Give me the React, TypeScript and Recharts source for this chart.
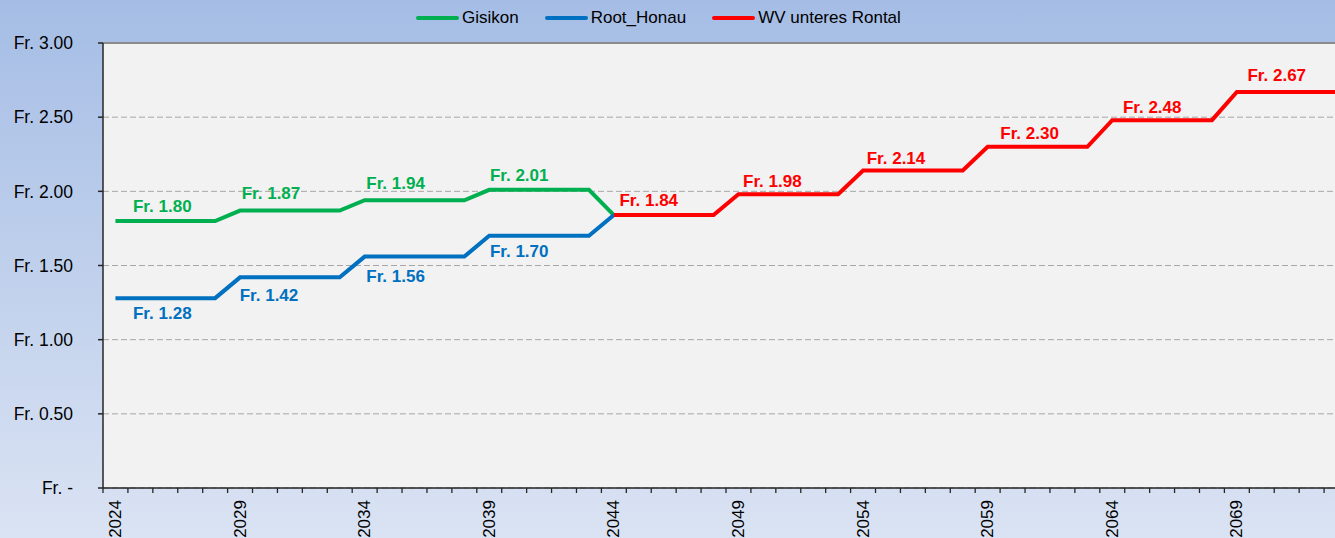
import { CartesianGrid, Legend, LabelList, Line, LineChart, ReferenceLine, XAxis, YAxis } from 'recharts';

// Jahre 2024–2073 (x-Achse), Beschriftung nur alle 5 Jahre
const YEARS = Array.from({ length: 50 }, (_, i) => 2024 + i);
const X_TICKS = [...YEARS.flatMap((y) => [y - 0.5, y]), 2073.5];
const Y_TICKS = [0, 0.5, 1, 1.5, 2, 2.5, 3];

// 2024–2044
const GISIKON = [
  1.8, 1.8, 1.8, 1.8, 1.8,
  1.87, 1.87, 1.87, 1.87, 1.87,
  1.94, 1.94, 1.94, 1.94, 1.94,
  2.01, 2.01, 2.01, 2.01, 2.01,
  1.84,
];
// 2024–2044
const ROOT_HONAU = [
  1.28, 1.28, 1.28, 1.28, 1.28,
  1.42, 1.42, 1.42, 1.42, 1.42,
  1.56, 1.56, 1.56, 1.56, 1.56,
  1.7, 1.7, 1.7, 1.7, 1.7,
  1.84,
];
// 2044–2073
const RONTAL = [
  1.84, 1.84, 1.84, 1.84, 1.84,
  1.98, 1.98, 1.98, 1.98, 1.98,
  2.14, 2.14, 2.14, 2.14, 2.14,
  2.3, 2.3, 2.3, 2.3, 2.3,
  2.48, 2.48, 2.48, 2.48, 2.48,
  2.67, 2.67, 2.67, 2.67, 2.67,
];

const ROWS = YEARS.map((year, i) => ({
  year,
  gisikon: GISIKON[i] ?? null,
  root: ROOT_HONAU[i] ?? null,
  rontal: i >= 20 ? RONTAL[i - 20] ?? null : null,
}));

// which points get a data label, and how far the label sits from the point
const GISIKON_LABELS: Record<number, [number, number]> = {
  2026: [-3, -15], 2030: [6, -17], 2035: [6, -17], 2040: [5, -14],
};
const ROOT_LABELS: Record<number, [number, number]> = {
  2026: [-3, 15], 2030: [4, 18], 2035: [6, 20], 2040: [5, 16],
};
const RONTAL_LABELS: Record<number, [number, number]> = {
  2045: [10, -15], 2050: [9, -13], 2055: [8, -12], 2060: [17, -13], 2065: [15, -13], 2070: [15, -16],
};

const FONT = '"Liberation Sans", Arial, sans-serif';
const AXIS = '#262626';

const fmtFr = (v: number) => (v === 0 ? 'Fr. -' : `Fr. ${v.toFixed(2)}`);

function makeLabel(spots: Record<number, [number, number]>, color: string) {
  return (props: any) => {
    const { x, y, value, index } = props;
    const spot = spots[ROWS[index]?.year];
    if (!spot || value == null) return null;
    return (
      <text
        x={x + spot[0]}
        y={y + spot[1]}
        textAnchor="middle"
        dominantBaseline="central"
        fontFamily={FONT}
        fontSize={17}
        fontWeight="bold"
        fill={color}
      >
        {fmtFr(Number(value))}
      </text>
    );
  };
}

function YearTick(props: any) {
  const { x, y, payload } = props;
  const v = payload.value as number;
  if (!Number.isInteger(v)) {
    return <line x1={x} x2={x} y1={y} y2={y + 5} stroke={AXIS} strokeWidth={1.3} />;
  }
  if ((v - 2024) % 5 !== 0) return <g />;
  return (
    <text
      x={x}
      y={y + 12}
      transform={`rotate(-90 ${x} ${y + 12})`}
      textAnchor="end"
      dominantBaseline="central"
      fontFamily={FONT}
      fontSize={17}
      fill="#000"
    >
      {v}
    </text>
  );
}

function LegendBox(props: any) {
  const items = props.payload ?? [];
  return (
    <div
      style={{
        height: 43,
        boxSizing: 'border-box',
        paddingBottom: 7,
        display: 'flex',
        alignItems: 'center',
        paddingLeft: 416,
        fontFamily: FONT,
        fontSize: 17,
        color: '#000',
      }}
    >
      {items.map((it: any) => (
        <div key={it.value} style={{ display: 'flex', alignItems: 'center', marginRight: 26 }}>
          <span style={{ display: 'inline-block', width: 43, height: 4, borderRadius: 2, background: it.color, marginRight: 3 }} />
          <span>{it.value}</span>
        </div>
      ))}
    </div>
  );
}

export default function App() {
  return (
    <div
      style={{
        position: 'fixed',
        left: 0,
        top: 0,
        width: 1335,
        height: 538,
        overflow: 'hidden',
        background: 'linear-gradient(180deg, #A5BDE5 0%, #DAE3F3 100%)',
      }}
    >
      <LineChart width={1350} height={538} data={ROWS} margin={{ top: 0, right: 1, bottom: 0, left: 0 }}>
        <CartesianGrid vertical={false} fill="#F2F2F2" stroke="#A6A6A6" strokeDasharray="6 3" />
        <Legend verticalAlign="top" align="left" content={LegendBox} />
        <XAxis
          type="number"
          dataKey="year"
          domain={[2023.5, 2073.5]}
          ticks={X_TICKS}
          interval={0}
          height={50}
          tickLine={false}
          tickSize={0}
          tickMargin={0}
          tick={YearTick}
          stroke={AXIS}
          strokeWidth={1.5}
        />
        <YAxis
          domain={[0, 3]}
          ticks={Y_TICKS}
          width={103}
          tickSize={5}
          tickMargin={25}
          tickFormatter={fmtFr}
          tick={{ fill: '#000', fontSize: 17.5, fontFamily: FONT }}
          stroke={AXIS}
          strokeWidth={1.5}
        />
        <ReferenceLine y={3} stroke="#8C8C8C" strokeWidth={2} />
        <Line
          name="Gisikon"
          dataKey="gisikon"
          stroke="#00B050"
          strokeWidth={4}
          dot={false}
          isAnimationActive={false}
        >
          <LabelList dataKey="gisikon" content={makeLabel(GISIKON_LABELS, '#00B050')} />
        </Line>
        <Line
          name="Root_Honau"
          dataKey="root"
          stroke="#0070C0"
          strokeWidth={4}
          dot={false}
          isAnimationActive={false}
        >
          <LabelList dataKey="root" content={makeLabel(ROOT_LABELS, '#0070C0')} />
        </Line>
        <Line
          name="WV unteres Rontal"
          dataKey="rontal"
          stroke="#FF0000"
          strokeWidth={4}
          dot={false}
          isAnimationActive={false}
        >
          <LabelList dataKey="rontal" content={makeLabel(RONTAL_LABELS, '#FF0000')} />
        </Line>
      </LineChart>
    </div>
  );
}
